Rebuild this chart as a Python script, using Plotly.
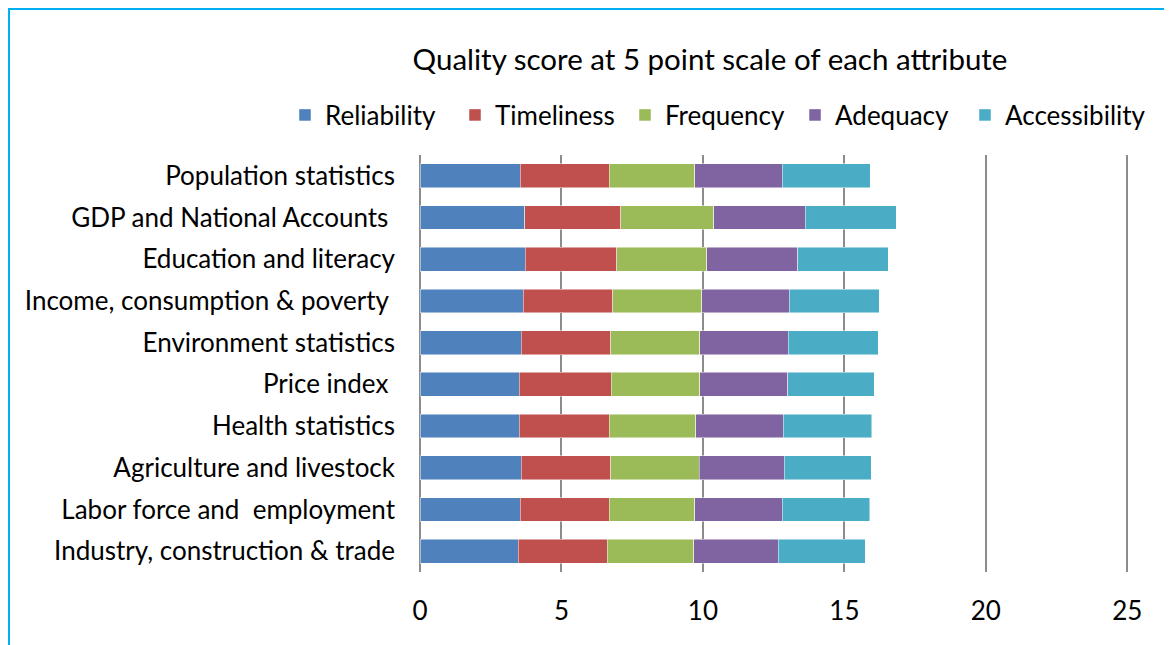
import plotly.graph_objects as go

# Categories, top to bottom as in the chart
categorias = [
    "Population statistics",
    "GDP and National Accounts\u00a0",
    "Education and literacy",
    "Income, consumption & poverty\u00a0",
    "Environment statistics",
    "Price index\u00a0",
    "Health statistics",
    "Agriculture and livestock",
    "Labor force and\u00a0 employment",
    "Industry, construction & trade",
]

# Scores per attribute (5 point scale)
reliability = [3.54, 3.71, 3.72, 3.65, 3.58, 3.50, 3.50, 3.58, 3.54, 3.47]
timeliness = [3.14, 3.39, 3.24, 3.17, 3.17, 3.26, 3.18, 3.17, 3.14, 3.15]
frequency = [3.03, 3.29, 3.18, 3.14, 3.14, 3.13, 3.07, 3.12, 3.03, 3.06]
adequacy = [3.10, 3.23, 3.21, 3.09, 3.13, 3.10, 3.08, 3.00, 3.09, 2.99]
accessibility = [3.10, 3.21, 3.20, 3.19, 3.17, 3.06, 3.13, 3.07, 3.09, 3.07]

atributos = ["Reliability", "Timeliness", "Frequency", "Adequacy", "Accessibility"]
series = [reliability, timeliness, frequency, adequacy, accessibility]
cores = ["#4F81BD", "#C0504D", "#9BBB59", "#8064A2", "#4BACC6"]

fonte = "Lato, Calibri, Carlito, sans-serif"

# a pagina tem margem de 8px no body, entao a figura e um pouco menor
W, H = 1164, 637
L, R, T, B = 412, 39, 147, 73
pw = W - L - R
ph = H - T - B

fig = go.Figure()

for nome, valores, cor in zip(atributos, series, cores):
    fig.add_trace(go.Bar(
        y=categorias, x=valores, name=nome, orientation="h",
        marker=dict(color=cor, line=dict(color="rgba(255,255,255,0.6)", width=0.8)),
    ))

# ultimo item da legenda precisa de mais espaco para o texto
fig.data[-1].legendwidth = 150

fig.update_layout(
    barmode="stack",
    bargap=0.43,
    width=W,
    height=H,
    margin=dict(l=L, r=R, t=T, b=B),
    paper_bgcolor="white",
    plot_bgcolor="white",
    font=dict(family=fonte, size=26, color="#000000"),
    title=dict(
        text="Quality score at 5 point scale of each attribute",
        x=702 / W, xref="container", xanchor="center",
        y=1 - 52 / H, yref="container", yanchor="middle",
        font=dict(family=fonte, size=29.5, color="#000000"),
    ),
    legend=dict(
        orientation="h", x=(277 - L) / pw, xanchor="left",
        y=(ph + T - 107) / ph, yanchor="middle",
        font=dict(size=26), traceorder="normal",
        entrywidth=125, entrywidthmode="pixels",
    ),
    xaxis=dict(
        # um pouco alem de 25 para a linha de grade do 25 aparecer
        range=[0, 25.2], tickvals=[0, 5, 10, 15, 20, 25],
        showgrid=True, gridcolor="#8c8c8c", gridwidth=1.5,
        zeroline=True, zerolinecolor="#8c8c8c", zerolinewidth=1.5,
        showline=False, ticks="", ticklabelstandoff=21,
    ),
    yaxis=dict(
        autorange="reversed", showgrid=False, showline=False, ticks="",
        ticklabelstandoff=24,
    ),
    shapes=[dict(
        type="rect", xref="paper", yref="paper",
        x0=(1 - L) / pw, x1=(1175 - L) / pw,
        y0=(ph + T - 700) / ph, y1=(ph + T - 1) / ph,
        line=dict(color="#00B0F0", width=2), fillcolor="rgba(0,0,0,0)",
        layer="below",
    )],
)

fig.write_html("out.html")
